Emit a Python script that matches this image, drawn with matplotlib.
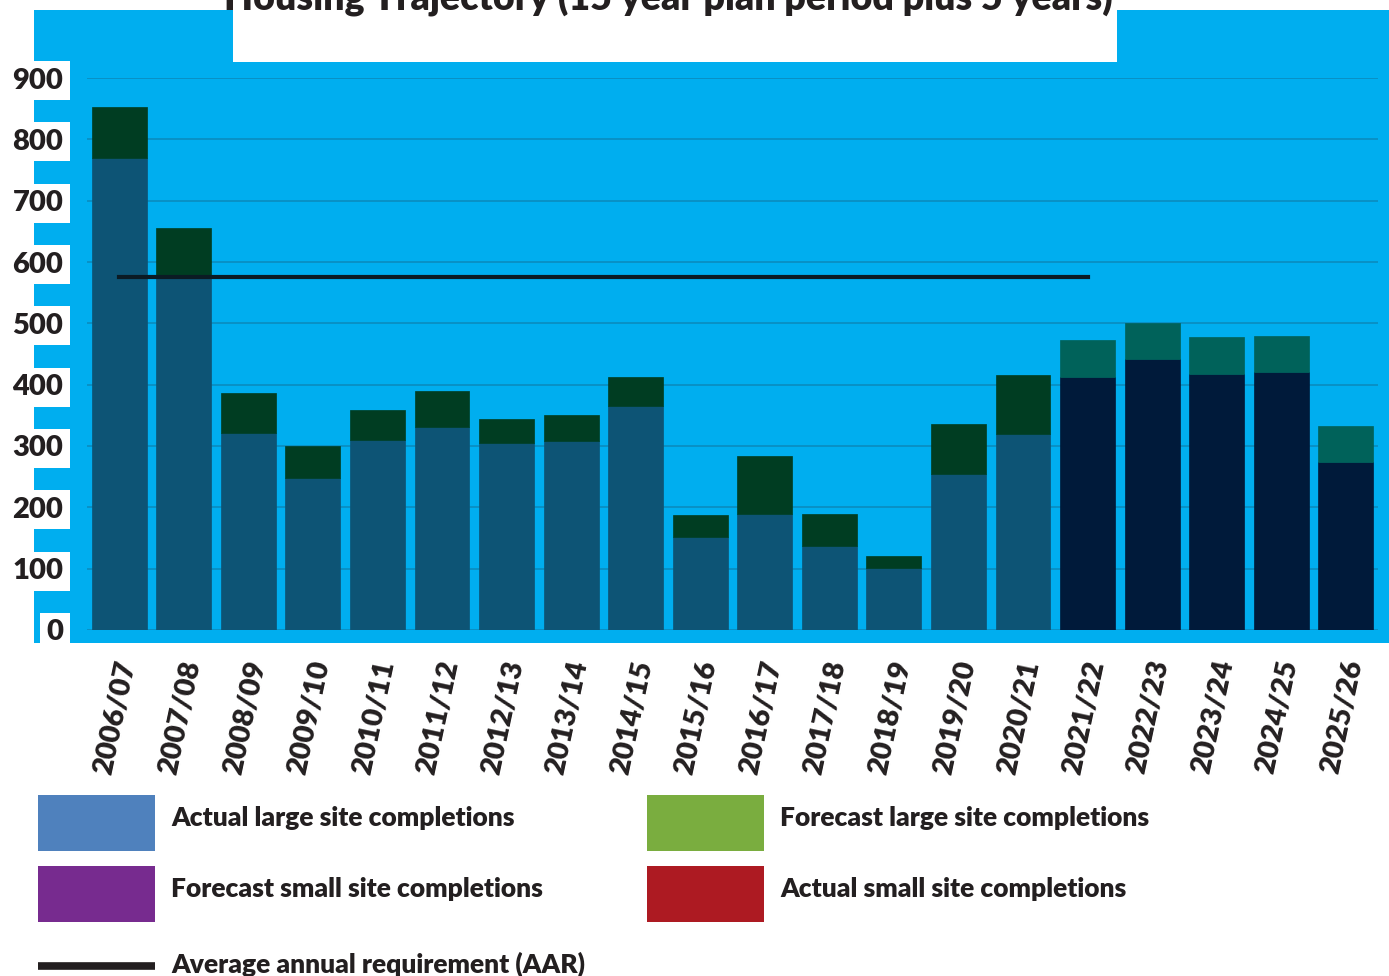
# housing trajectory stacked bars with AAR line
import matplotlib
matplotlib.use("Agg")
import matplotlib.pyplot as plt
import matplotlib.patches as mpatches
import matplotlib.lines as mlines
import matplotlib.transforms as mtransforms
import numpy as np

plt.rcParams['font.family'] = ['Lato', 'DejaVu Sans']
plt.rcParams['font.weight'] = 'heavy'
wt = 'heavy'

# data
years = ['2006/07', '2007/08', '2008/09', '2009/10', '2010/11', '2011/12', '2012/13',
         '2013/14', '2014/15', '2015/16', '2016/17', '2017/18', '2018/19', '2019/20',
         '2020/21', '2021/22', '2022/23', '2023/24', '2024/25', '2025/26']
# first 15 years are actuals, last 5 are forecasts
large_sites = [770, 574, 321, 248, 310, 331, 305, 308, 365, 152, 189, 137, 101, 254,
               320, 413, 442, 417, 421, 274]
small_sites = [83, 81, 65, 52, 49, 59, 39, 43, 48, 36, 95, 52, 20, 82,
               96, 60, 59, 61, 58, 59]
n_actual = 15
aar = 576

blue_bg = '#00AEEF'
c_act_large = '#0D5475'
c_act_small = '#003D22'
c_fc_large = '#001A3A'
c_fc_small = '#00625A'
txt = '#231F20'

W, H = 1389, 976
fig = plt.figure(figsize=(W / 100, H / 100), dpi=100)
fig.patch.set_facecolor('white')

# blue panel behind the plot
fig.patches.append(mpatches.Rectangle((34 / W, (H - 643) / H), (W - 34) / W, (643 - 10) / H,
                                      transform=fig.transFigure, facecolor=blue_bg,
                                      edgecolor='none', zorder=-3))
# white title box
fig.patches.append(mpatches.Rectangle((233 / W, (H - 62) / H), 884 / W, 62 / H + 0.01,
                                      transform=fig.transFigure, facecolor='white',
                                      edgecolor='none', zorder=-2))
fig.text(668 / W, (H - 9) / H, 'Housing Trajectory (15 year plan period plus 5 years)',
         ha='center', va='baseline', fontsize=27, fontweight=wt, color=txt)

ax = fig.add_axes([87 / W, (H - 630) / H, (1378 - 87) / W, (630 - 78) / H])
ax.set_facecolor('none')

x = np.arange(len(years))
large = np.array(large_sites)
small = np.array(small_sites)
col_large = [c_act_large] * n_actual + [c_fc_large] * (len(years) - n_actual)
col_small = [c_act_small] * n_actual + [c_fc_small] * (len(years) - n_actual)
ax.bar(x, large, width=0.85, color=col_large, edgecolor=col_large, linewidth=0.5, zorder=2)
ax.bar(x, small, width=0.85, bottom=large, color=col_small, edgecolor=col_small,
       linewidth=0.5, zorder=2)
ax.plot([0, n_actual], [aar, aar], color='#0B1B24', linewidth=3, zorder=3)

ax.set_xlim(-0.5, 19.5)
ax.set_ylim(0, 900)
ax.set_yticks(range(0, 1000, 100))
ax.grid(axis='y', color='#0A8CBE', linewidth=1.2, zorder=1)
ax.set_axisbelow(True)
for s in ax.spines.values():
    s.set_visible(False)

ax.tick_params(axis='y', length=0, pad=17, labelsize=21, labelcolor=txt)
for lab in ax.get_yticklabels():
    lab.set_fontweight(wt)
    lab.set_bbox(dict(boxstyle='square,pad=0.22', facecolor='white', edgecolor='none'))

ax.set_xticks(x)
ax.set_xticklabels(years, rotation=78, ha='right', va='center', rotation_mode='anchor',
                   fontsize=21, fontweight=wt, color=txt)
ax.tick_params(axis='x', length=0, pad=22)
offset = mtransforms.ScaledTranslation(8 / 100, 0, fig.dpi_scale_trans)
for lab in ax.get_xticklabels():
    lab.set_transform(lab.get_transform() + offset)

# legend drawn by hand below the chart
legend_items = [
    ('Actual large site completions', '#4F81BD', 38, 795),
    ('Forecast large site completions', '#7AAD3F', 647, 795),
    ('Forecast small site completions', '#772B8F', 38, 866),
    ('Actual small site completions', '#AD1A22', 647, 866),
]
for label, colour, px, py in legend_items:
    fig.patches.append(mpatches.Rectangle((px / W, (H - py - 56) / H), 117 / W, 56 / H,
                                          transform=fig.transFigure, facecolor=colour,
                                          edgecolor='none'))
    fig.text((px + 133) / W, (H - py - 23) / H, label, ha='left', va='center',
             fontsize=19, fontweight=wt, color=txt)
fig.lines.append(mlines.Line2D([38 / W, 155 / W], [(H - 966) / H] * 2, transform=fig.transFigure,
                               color=txt, linewidth=5.5, solid_capstyle='butt'))
fig.text(171 / W, (H - 964) / H, 'Average annual requirement (AAR)', ha='left', va='center',
         fontsize=19, fontweight=wt, color=txt)

fig.savefig('out.png', dpi=100, facecolor='white')
